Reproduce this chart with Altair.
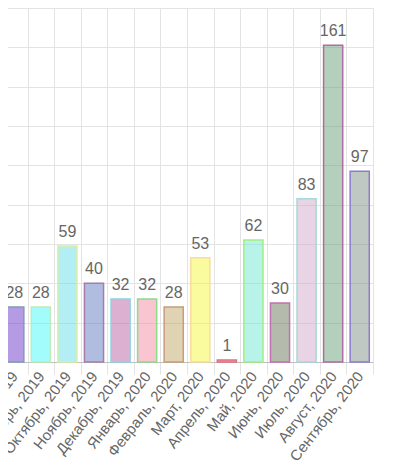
import altair as alt
import pandas as pd

months = ["Август, 2019", "Сентябрь, 2019", "Октябрь, 2019", "Ноябрь, 2019",
          "Декабрь, 2019", "Январь, 2020", "Февраль, 2020", "Март, 2020",
          "Апрель, 2020", "Май, 2020", "Июнь, 2020", "Июль, 2020",
          "Август, 2020", "Сентябрь, 2020"]
values = [28, 28, 59, 40, 32, 32, 28, 53, 1, 62, 30, 83, 161, 97]
fills = ["#6937c9", "#47f9f9", "#67ddeb", "#617bc1", "#b961a1", "#f18ba1",
         "#c1a767", "#f5f53d", "#eb5569", "#71e7d5", "#697559", "#d1a9c9",
         "#69a179", "#819189"]
borders = ["#7f9cb5", "#c0eab8", "#d8f0a0", "#a87ca8", "#8cd4e0", "#8cdc8c",
           "#c89c7c", "#f8dca0", "#e07080", "#a0f080", "#c070b0", "#a8d8d8",
           "#b06ca0", "#8c7cd0"]
y_ticks = [0, 20, 40, 60, 80, 100, 120, 140, 160, 180]

df = pd.DataFrame({"month": months, "value": values})

grid = "#e3e3e3"
font = "Liberation Sans"

x = alt.X("month:N", sort=months, title=None,
          scale=alt.Scale(paddingInner=0, paddingOuter=0),
          axis=alt.Axis(labelAngle=-52, labelAlign="right", labelBaseline="middle",
                        labelFontSize=15, labelColor="#666666", labelFont=font,
                        labelPadding=-1, labelOffset=0, labelOverlap=False,
                        tickSize=12, tickColor=grid, tickBand="extent",
                        grid=True, gridColor=grid,
                        domainColor="#bfbfbf"))
y = alt.Y("value:Q", title=None,
          scale=alt.Scale(domain=[0, 180], nice=False),
          axis=alt.Axis(values=y_ticks, labels=False, ticks=False, domain=False,
                        grid=True, gridColor=grid))

bars = alt.Chart(df).mark_bar(width=alt.RelativeBandSize(0.72), strokeWidth=1.5,
                              fillOpacity=0.5).encode(
    x=x, y=y,
    color=alt.Color("month:N", scale=alt.Scale(domain=months, range=fills), legend=None),
    stroke=alt.Stroke("month:N", scale=alt.Scale(domain=months, range=borders), legend=None),
)

labels = alt.Chart(df).mark_text(dy=-9, baseline="alphabetic", fontSize=16,
                                 color="#666666", font=font).encode(
    x=x, y=y, text="value:Q")

chart = alt.layer(bars, labels).properties(
    width=372, height=354,
    padding={"left": -7, "top": 0, "right": 10, "bottom": 110},
    autosize=alt.AutoSizeParams(type="none"),
).configure_view(stroke=None)

chart.save("out.html", embed_options={"renderer": "svg", "actions": False})
